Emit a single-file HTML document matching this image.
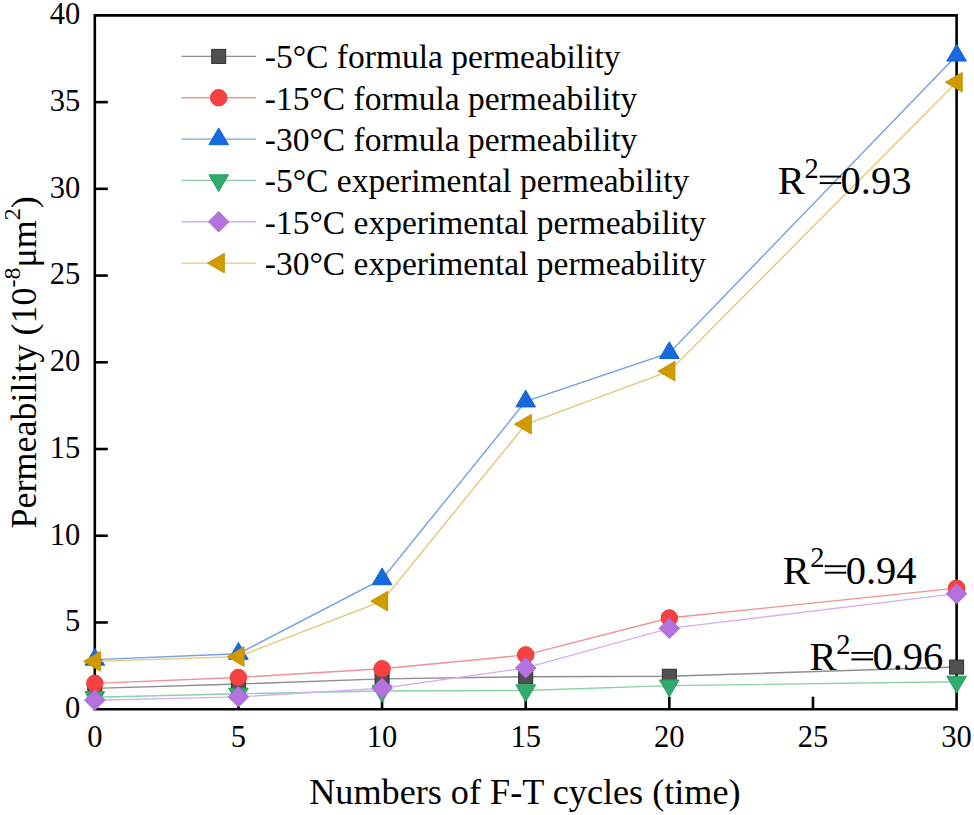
<!DOCTYPE html>
<html><head><meta charset="utf-8"><style>
html,body{margin:0;padding:0;background:#fff;}
svg{display:block;}
.t{font-family:"Liberation Serif",serif;font-size:30.5px;fill:#000;}
.tl{font-family:"Liberation Serif",serif;font-size:33.5px;fill:#000;}
.t2{font-family:"Liberation Serif",serif;font-size:36px;fill:#000;}
.t3{font-family:"Liberation Serif",serif;font-size:40.5px;fill:#000;}
</style></head><body>
<svg width="974" height="815" viewBox="0 0 974 815">
<path d="M94.80,15.40 H956.60 V709.20 H94.80 Z" fill="none" stroke="#000" stroke-width="2.6"/>
<line x1="94.80" x2="107.80" y1="622.48" y2="622.48" stroke="#000" stroke-width="2.6"/>
<line x1="94.80" x2="107.80" y1="535.75" y2="535.75" stroke="#000" stroke-width="2.6"/>
<line x1="94.80" x2="107.80" y1="449.02" y2="449.02" stroke="#000" stroke-width="2.6"/>
<line x1="94.80" x2="107.80" y1="362.30" y2="362.30" stroke="#000" stroke-width="2.6"/>
<line x1="94.80" x2="107.80" y1="275.58" y2="275.58" stroke="#000" stroke-width="2.6"/>
<line x1="94.80" x2="107.80" y1="188.85" y2="188.85" stroke="#000" stroke-width="2.6"/>
<line x1="94.80" x2="107.80" y1="102.12" y2="102.12" stroke="#000" stroke-width="2.6"/>
<line x1="238.43" x2="238.43" y1="709.20" y2="696.70" stroke="#000" stroke-width="2.6"/>
<line x1="382.07" x2="382.07" y1="709.20" y2="696.70" stroke="#000" stroke-width="2.6"/>
<line x1="525.70" x2="525.70" y1="709.20" y2="696.70" stroke="#000" stroke-width="2.6"/>
<line x1="669.33" x2="669.33" y1="709.20" y2="696.70" stroke="#000" stroke-width="2.6"/>
<line x1="812.97" x2="812.97" y1="709.20" y2="696.70" stroke="#000" stroke-width="2.6"/>
<polyline points="94.80,688.39 238.43,684.05 382.07,678.85 525.70,676.76 669.33,676.24 956.60,667.05" fill="none" stroke="#8e8e8e" stroke-width="1.4"/>
<rect x="87.80" y="681.39" width="14.0" height="14.0" fill="#505050" stroke="#2e2e2e" stroke-width="1"/>
<rect x="231.43" y="677.05" width="14.0" height="14.0" fill="#505050" stroke="#2e2e2e" stroke-width="1"/>
<rect x="375.07" y="671.85" width="14.0" height="14.0" fill="#505050" stroke="#2e2e2e" stroke-width="1"/>
<rect x="518.70" y="669.76" width="14.0" height="14.0" fill="#505050" stroke="#2e2e2e" stroke-width="1"/>
<rect x="662.33" y="669.24" width="14.0" height="14.0" fill="#505050" stroke="#2e2e2e" stroke-width="1"/>
<rect x="949.60" y="660.05" width="14.0" height="14.0" fill="#505050" stroke="#2e2e2e" stroke-width="1"/>
<polyline points="94.80,683.36 238.43,677.46 382.07,668.79 525.70,654.91 669.33,617.97 956.60,588.13" fill="none" stroke="#f09294" stroke-width="1.4"/>
<circle cx="94.80" cy="683.36" r="8.25" fill="#f84242" stroke="#e83a3c" stroke-width="1"/>
<circle cx="238.43" cy="677.46" r="8.25" fill="#f84242" stroke="#e83a3c" stroke-width="1"/>
<circle cx="382.07" cy="668.79" r="8.25" fill="#f84242" stroke="#e83a3c" stroke-width="1"/>
<circle cx="525.70" cy="654.91" r="8.25" fill="#f84242" stroke="#e83a3c" stroke-width="1"/>
<circle cx="669.33" cy="617.97" r="8.25" fill="#f84242" stroke="#e83a3c" stroke-width="1"/>
<circle cx="956.60" cy="588.13" r="8.25" fill="#f84242" stroke="#e83a3c" stroke-width="1"/>
<polyline points="94.80,659.59 238.43,653.70 382.07,579.11 525.70,401.33 669.33,352.93 956.60,55.47" fill="none" stroke="#74a0e6" stroke-width="1.4"/>
<polygon points="94.80,648.39 104.60,665.19 85.00,665.19" fill="#166ade" stroke="#1060d6" stroke-width="1" stroke-linejoin="miter"/>
<polygon points="238.43,642.50 248.23,659.30 228.63,659.30" fill="#166ade" stroke="#1060d6" stroke-width="1" stroke-linejoin="miter"/>
<polygon points="382.07,567.91 391.87,584.71 372.27,584.71" fill="#166ade" stroke="#1060d6" stroke-width="1" stroke-linejoin="miter"/>
<polygon points="525.70,390.13 535.50,406.93 515.90,406.93" fill="#166ade" stroke="#1060d6" stroke-width="1" stroke-linejoin="miter"/>
<polygon points="669.33,341.73 679.13,358.53 659.53,358.53" fill="#166ade" stroke="#1060d6" stroke-width="1" stroke-linejoin="miter"/>
<polygon points="956.60,44.27 966.40,61.07 946.80,61.07" fill="#166ade" stroke="#1060d6" stroke-width="1" stroke-linejoin="miter"/>
<polyline points="94.80,697.23 238.43,693.76 382.07,690.99 525.70,690.47 669.33,685.61 956.60,681.79" fill="none" stroke="#8ad2a6" stroke-width="1.4"/>
<polygon points="94.80,708.43 104.60,691.63 85.00,691.63" fill="#30ac6a" stroke="#24a05e" stroke-width="1" stroke-linejoin="miter"/>
<polygon points="238.43,704.96 248.23,688.16 228.63,688.16" fill="#30ac6a" stroke="#24a05e" stroke-width="1" stroke-linejoin="miter"/>
<polygon points="382.07,702.19 391.87,685.39 372.27,685.39" fill="#30ac6a" stroke="#24a05e" stroke-width="1" stroke-linejoin="miter"/>
<polygon points="525.70,701.67 535.50,684.87 515.90,684.87" fill="#30ac6a" stroke="#24a05e" stroke-width="1" stroke-linejoin="miter"/>
<polygon points="669.33,696.81 679.13,680.01 659.53,680.01" fill="#30ac6a" stroke="#24a05e" stroke-width="1" stroke-linejoin="miter"/>
<polygon points="956.60,692.99 966.40,676.19 946.80,676.19" fill="#30ac6a" stroke="#24a05e" stroke-width="1" stroke-linejoin="miter"/>
<polyline points="94.80,700.18 238.43,696.89 382.07,688.21 525.70,667.92 669.33,628.37 956.60,593.68" fill="none" stroke="#d4b0f0" stroke-width="1.4"/>
<polygon points="94.80,689.98 105.00,700.18 94.80,710.38 84.60,700.18" fill="#b472de" stroke="#a866d6" stroke-width="1" stroke-linejoin="miter"/>
<polygon points="238.43,686.69 248.63,696.89 238.43,707.09 228.23,696.89" fill="#b472de" stroke="#a866d6" stroke-width="1" stroke-linejoin="miter"/>
<polygon points="382.07,678.01 392.27,688.21 382.07,698.41 371.87,688.21" fill="#b472de" stroke="#a866d6" stroke-width="1" stroke-linejoin="miter"/>
<polygon points="525.70,657.72 535.90,667.92 525.70,678.12 515.50,667.92" fill="#b472de" stroke="#a866d6" stroke-width="1" stroke-linejoin="miter"/>
<polygon points="669.33,618.17 679.53,628.37 669.33,638.57 659.13,628.37" fill="#b472de" stroke="#a866d6" stroke-width="1" stroke-linejoin="miter"/>
<polygon points="956.60,583.48 966.80,593.68 956.60,603.88 946.40,593.68" fill="#b472de" stroke="#a866d6" stroke-width="1" stroke-linejoin="miter"/>
<polyline points="94.80,661.33 238.43,656.64 382.07,601.14 525.70,424.22 669.33,371.15 956.60,82.18" fill="none" stroke="#e4c878" stroke-width="1.4"/>
<polygon points="83.60,661.33 100.40,651.53 100.40,671.13" fill="#cf9b00" stroke="#c49200" stroke-width="1" stroke-linejoin="miter"/>
<polygon points="227.23,656.64 244.03,646.84 244.03,666.44" fill="#cf9b00" stroke="#c49200" stroke-width="1" stroke-linejoin="miter"/>
<polygon points="370.87,601.14 387.67,591.34 387.67,610.94" fill="#cf9b00" stroke="#c49200" stroke-width="1" stroke-linejoin="miter"/>
<polygon points="514.50,424.22 531.30,414.42 531.30,434.02" fill="#cf9b00" stroke="#c49200" stroke-width="1" stroke-linejoin="miter"/>
<polygon points="658.13,371.15 674.93,361.35 674.93,380.95" fill="#cf9b00" stroke="#c49200" stroke-width="1" stroke-linejoin="miter"/>
<polygon points="945.40,82.18 962.20,72.38 962.20,91.98" fill="#cf9b00" stroke="#c49200" stroke-width="1" stroke-linejoin="miter"/>
<line x1="181.5" x2="256" y1="56.40" y2="56.40" stroke="#8e8e8e" stroke-width="1.4"/>
<rect x="211.70" y="49.40" width="14.0" height="14.0" fill="#505050" stroke="#2e2e2e" stroke-width="1"/>
<text x="264.8" y="68.40" class="tl">-5°C formula permeability</text>
<line x1="181.5" x2="256" y1="97.74" y2="97.74" stroke="#f09294" stroke-width="1.4"/>
<circle cx="218.70" cy="97.74" r="8.25" fill="#f84242" stroke="#e83a3c" stroke-width="1"/>
<text x="264.8" y="109.74" class="tl">-15°C formula permeability</text>
<line x1="181.5" x2="256" y1="139.08" y2="139.08" stroke="#74a0e6" stroke-width="1.4"/>
<polygon points="218.70,127.88 228.50,144.68 208.90,144.68" fill="#166ade" stroke="#1060d6" stroke-width="1" stroke-linejoin="miter"/>
<text x="264.8" y="151.08" class="tl">-30°C formula permeability</text>
<line x1="181.5" x2="256" y1="180.42" y2="180.42" stroke="#8ad2a6" stroke-width="1.4"/>
<polygon points="218.70,191.62 228.50,174.82 208.90,174.82" fill="#30ac6a" stroke="#24a05e" stroke-width="1" stroke-linejoin="miter"/>
<text x="264.8" y="192.42" class="tl">-5°C experimental permeability</text>
<line x1="181.5" x2="256" y1="221.76" y2="221.76" stroke="#d4b0f0" stroke-width="1.4"/>
<polygon points="218.70,211.56 228.90,221.76 218.70,231.96 208.50,221.76" fill="#b472de" stroke="#a866d6" stroke-width="1" stroke-linejoin="miter"/>
<text x="264.8" y="233.76" class="tl">-15°C experimental permeability</text>
<line x1="181.5" x2="256" y1="263.10" y2="263.10" stroke="#e4c878" stroke-width="1.4"/>
<polygon points="207.50,263.10 224.30,253.30 224.30,272.90" fill="#cf9b00" stroke="#c49200" stroke-width="1" stroke-linejoin="miter"/>
<text x="264.8" y="275.10" class="tl">-30°C experimental permeability</text>
<text x="80.2" y="718.00" class="t" text-anchor="end">0</text>
<text x="80.2" y="631.27" class="t" text-anchor="end">5</text>
<text x="80.2" y="544.55" class="t" text-anchor="end">10</text>
<text x="80.2" y="457.82" class="t" text-anchor="end">15</text>
<text x="80.2" y="371.10" class="t" text-anchor="end">20</text>
<text x="80.2" y="284.38" class="t" text-anchor="end">25</text>
<text x="80.2" y="197.65" class="t" text-anchor="end">30</text>
<text x="80.2" y="110.92" class="t" text-anchor="end">35</text>
<text x="80.2" y="24.20" class="t" text-anchor="end">40</text>
<text x="94.80" y="747" class="t" text-anchor="middle">0</text>
<text x="238.43" y="747" class="t" text-anchor="middle">5</text>
<text x="382.07" y="747" class="t" text-anchor="middle">10</text>
<text x="525.70" y="747" class="t" text-anchor="middle">15</text>
<text x="669.33" y="747" class="t" text-anchor="middle">20</text>
<text x="812.97" y="747" class="t" text-anchor="middle">25</text>
<text x="956.60" y="747" class="t" text-anchor="middle">30</text>
<text x="524.9" y="804" class="t2" style="font-size:36.2px" text-anchor="middle">Numbers of F-T cycles (time)</text>
<text transform="translate(35.5,528.5) rotate(-90)" class="t2">Permeability (10<tspan dy="-15.5" font-size="24">-8</tspan><tspan dy="15.5">μm</tspan><tspan dy="-15.5" font-size="24">2</tspan><tspan dy="15.5">)</tspan></text>
<text x="777.70" y="194.00" class="t3">R</text><text x="804.50" y="177.80" class="t3" style="font-size:28.5px">2</text><rect x="819.60" y="175.65" width="21.60" height="1.9" fill="#000"/><rect x="819.60" y="182.15" width="21.60" height="1.9" fill="#000"/><text x="840.60" y="194.00" class="t3">0.93</text>
<text x="782.80" y="583.60" class="t3">R</text><text x="810.20" y="567.40" class="t3" style="font-size:28.5px">2</text><rect x="824.70" y="565.25" width="21.60" height="1.9" fill="#000"/><rect x="824.70" y="571.75" width="21.60" height="1.9" fill="#000"/><text x="845.70" y="583.60" class="t3">0.94</text>
<text x="809.50" y="670.30" class="t3">R</text><text x="836.30" y="654.10" class="t3" style="font-size:28.5px">2</text><rect x="851.40" y="651.95" width="21.60" height="1.9" fill="#000"/><rect x="851.40" y="658.45" width="21.60" height="1.9" fill="#000"/><text x="872.40" y="670.30" class="t3">0.96</text>
</svg>
</body></html>
